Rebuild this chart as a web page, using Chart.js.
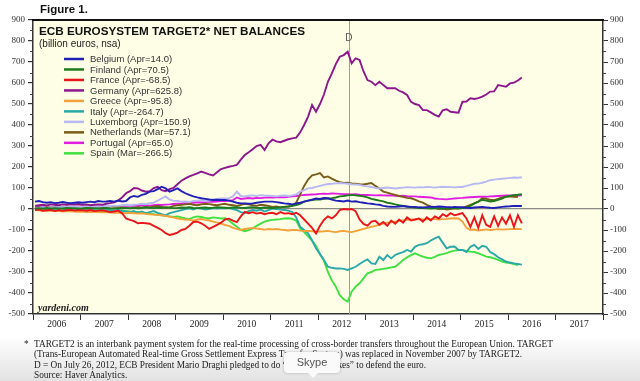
<!DOCTYPE html>
<html><head><meta charset="utf-8">
<script src="https://cdn.jsdelivr.net/npm/chart.js@4.4.1/dist/chart.umd.min.js"></script>
<style>
html,body{margin:0;padding:0;}
body{width:640px;height:381px;position:relative;overflow:hidden;background:linear-gradient(to bottom,#fff 0,#fff 336px,#e2e2e2 381px);font-family:"Liberation Sans",Arial,sans-serif;}
#c{position:absolute;left:0;top:0;}
.t{position:absolute;white-space:nowrap;line-height:1;}
.foot{position:absolute;left:24px;top:339px;font-family:"Liberation Serif",serif;font-size:9.3px;line-height:10.4px;color:#222;white-space:nowrap;}
.foot .star{position:absolute;left:0;top:0;}
.foot .txt{position:absolute;left:10px;top:0;}
.skype{position:absolute;left:284px;top:352px;width:56px;height:21px;background:#fafafa;border-radius:4px;box-shadow:0 0 3px rgba(0,0,0,0.25);font-family:"Liberation Sans",Arial,sans-serif;font-size:11px;color:#555;text-align:center;line-height:21px;}
.skype:after{content:"";position:absolute;left:24px;top:21px;border-left:5px solid transparent;border-right:5px solid transparent;border-top:5px solid #fafafa;}
</style></head>
<body>
<canvas id="c" width="640" height="381"></canvas>
<div class="t" style="left:40px;top:4px;font-weight:bold;font-size:11.5px;color:#111">Figure 1.</div>
<div class="t" style="left:39px;top:25px;font-weight:bold;font-size:11.7px;color:#111">ECB EUROSYSTEM TARGET2* NET BALANCES</div>
<div class="t" style="left:39px;top:39px;font-size:10px;color:#222">(billion euros, nsa)</div>
<div class="t" style="left:38px;top:303px;font-family:'Liberation Serif',serif;font-style:italic;font-weight:bold;font-size:10px;color:#222">yardeni.com</div>
<div class="foot"><span class="star">*</span><div class="txt">TARGET2 is an interbank payment system for the real-time processing of cross-border transfers throughout the European Union. TARGET<br>(Trans-European Automated Real-time Gross Settlement Express Transfer System) was replaced in November 2007 by TARGET2.<br>D = On July 26, 2012, ECB President Mario Draghi pledged to do “whatever it takes” to defend the euro.<br>Source: Haver Analytics.</div></div>
<div class="skype">Skype</div>
<script>
// ---- data (billion euros, monthly from Jan 2006) ----
const yearLabels = ['2006','2007','2008','2009','2010','2011','2012','2013','2014','2015','2016','2017'];
const seriesNames = ['Belgium (Apr=14.0)','Finland (Apr=70.5)','France (Apr=-68.5)','Germany (Apr=625.8)','Greece (Apr=-95.8)','Italy (Apr=-264.7)','Luxemborg (Apr=150.9)','Netherlands (Mar=57.1)','Portugal (Apr=65.0)','Spain (Mar=-266.5)'];
const dLineDate = 2012.65;

const belgium = [35,38,33,30,32,28,30,33,30,28,30,32, 30,33,35,32,38,35,36,38,35,40,36,38, 55,62,58,67,72,83,85,95,106,98,83,90, 98,85,75,67,60,55,51,48,45,43,44,43, 43,40,35,30,27,27,25,27,30,33,35,35, 35,33,30,27,25,22,27,30,35,40,45,50, 48,52,51,45,40,38,36,40,35,37,33,30, 27,25,22,20,15,12,11,10,12,14,12,10, 10,8,7,9,11,10,12,11,9,8,10,9, 8,6,5,7,9,10,8,6,5,8,10,12, 13,15,14,14.0];
const finland = [3,4,2,5,3,4,2,3,5,4,3,2, 3,5,4,3,2,4,5,3,2,4,3,5, 4,6,3,5,8,6,4,7,5,8,6,4, 5,7,6,8,5,4,6,7,5,6,8,7, 6,5,7,8,6,5,7,9,6,5,7,6, 5,6,8,10,12,15,19,25,35,40,43,45, 45,48,50,52,55,60,62,65,67,65,63,60, 55,48,44,40,36,30,27,22,18,15,11,9, 7,5,4,3,2,3,4,2,3,5,4,3, 4,8,15,27,35,44,40,36,38,44,50,59, 62,66,68,70.5];
const france = [-5,-3,-8,-6,-4,-10,-5,-8,-6,-4,-7,-5, -6,-8,-5,-10,-8,-6,-10,-15,-12,-8,-20,-45, -52,-58,-68,-66,-68,-70,-80,-90,-100,-115,-124,-119, -112,-100,-95,-80,-62,-60,-68,-80,-95,-85,-76,-65, -50,-46,-55,-62,-35,-14,-20,-15,-22,-18,-25,-20, -18,-25,-15,-22,-20,-25,-18,-30,-50,-70,-90,-116, -80,-52,-35,-45,-30,-5,0,-2,0,-10,-50,-71, -79,-60,-56,-75,-62,-80,-55,-70,-50,-65,-40,-55, -50,-45,-60,-40,-55,-35,-45,-25,-35,-20,-30,-25, -20,-45,-85,-40,-90,-30,-75,-85,-35,-80,-40,-70, -30,-85,-30,-68.5];
const germany = [15,18,20,17,22,20,18,22,20,24,22,25, 20,22,18,20,22,20,25,28,32,40,55,75, 85,100,98,88,82,85,100,106,90,85,95,100, 118,135,146,155,162,170,178,172,165,160,175,190, 196,201,205,210,235,257,270,285,300,305,281,313, 330,322,318,325,332,336,340,365,400,440,495,463, 500,545,606,646,690,725,733,749,694,717,710,655, 614,606,590,606,590,575,575,575,563,555,543,510, 500,495,471,471,460,448,440,470,475,463,461,459, 511,512,527,524,528,535,545,559,560,590,586,582, 598,602,612,625.8];
const greece = [-5,-6,-8,-7,-9,-10,-10,-12,-10,-11,-12,-13, -12,-14,-13,-15,-14,-16,-15,-17,-18,-17,-19,-20, -18,-20,-22,-20,-23,-25,-27,-28,-30,-33,-37,-40, -45,-48,-50,-52,-55,-50,-48,-52,-55,-60,-65,-70, -76,-80,-90,-95,-100,-95,-92,-90,-93,-95,-98,-95, -97,-95,-98,-100,-102,-100,-100,-103,-105,-104,-106,-108, -107,-106,-104,-108,-110,-106,-104,-108,-110,-105,-100,-95, -90,-85,-80,-75,-70,-65,-63,-60,-58,-55,-52,-50, -50,-48,-50,-49,-47,-48,-50,-48,-47,-45,-44,-45, -60,-90,-100,-98,-102,-100,-97,-100,-98,-96,-98,-97, -96,-95,-95,-95.8];
const italy = [2,-1,3,0,-2,1,4,2,-1,0,3,1, 0,2,-3,1,3,-2,0,-5,-8,-4,-10,-12, -15,-10,-18,-12,-20,-15,-10,-18,-25,-30,-20,-15, -10,-5,0,3,-2,5,2,-3,0,4,2,5, 3,5,0,-5,-15,-20,-10,-5,-8,-3,-12,-5, 2,0,-3,-5,-8,-15,-40,-85,-100,-116,-150,-187, -215,-243,-275,-280,-283,-283,-285,-290,-283,-275,-262,-250, -240,-259,-262,-227,-243,-219,-235,-219,-211,-205,-195,-203, -180,-171,-168,-163,-150,-140,-132,-160,-187,-180,-179,-195, -195,-205,-180,-171,-190,-175,-180,-205,-215,-230,-240,-250, -255,-259,-262,-264.7];
const luxembourg = [5,6,8,7,9,8,10,9,11,10,12,11, 12,10,13,12,14,13,15,14,16,15,18,20, 18,20,22,25,23,28,30,40,50,60,45,40, 38,35,36,34,38,40,42,38,40,45,48,50, 50,52,60,83,62,60,63,65,62,66,64,63, 62,60,63,64,62,65,70,83,90,98,100,105, 110,115,119,120,122,124,122,120,118,117,115,110, 108,105,100,98,100,102,100,98,100,102,104,103, 102,104,103,105,104,102,104,106,105,104,103,105, 105,110,115,120,121,125,130,137,140,142,144,146, 148,150,149,150.9];
const netherlands = [5,8,6,10,7,9,12,8,10,11,9,12, 10,12,8,10,12,9,11,13,10,12,8,5, 3,5,8,6,10,8,12,15,10,5,8,15, 18,20,22,25,20,18,22,25,23,20,18,22, 25,20,18,15,20,25,22,18,15,20,18,15, 10,12,8,10,12,15,30,70,110,140,160,165, 171,150,155,145,135,128,124,125,122,120,118,117, 120,124,110,98,83,78,72,67,62,58,53,51, 45,36,30,20,11,5,0,2,-2,0,3,2, 5,12,20,27,35,51,48,44,42,48,55,59, 60,58,57.1];
const portugal = [8,10,9,11,10,12,11,10,12,11,13,12, 12,11,13,12,14,13,12,14,15,13,15,16, 15,16,14,17,18,16,18,20,19,21,22,24, 25,26,28,27,30,32,31,33,35,34,36,38, 38,40,42,55,48,50,52,50,53,52,54,55, 55,56,57,56,58,60,62,65,67,68,69,70, 72,73,72,74,73,72,71,70,69,70,68,67, 67,66,65,66,65,64,65,63,62,63,61,60, 60,58,57,56,55,50,48,47,46,48,50,52, 53,55,56,57,58,59,58,60,61,62,63,64, 64,65,64,65.0];
const spain = [-3,-5,-4,-6,-5,-7,-6,-8,-7,-6,-8,-7, -8,-7,-9,-8,-10,-9,-8,-10,-12,-10,-8,-10, -12,-15,-14,-18,-20,-22,-25,-28,-30,-33,-35,-38, -35,-40,-45,-48,-40,-35,-38,-42,-45,-40,-42,-45, -44,-55,-70,-84,-100,-106,-100,-92,-80,-70,-60,-55, -52,-50,-48,-45,-44,-47,-55,-92,-110,-130,-150,-176, -215,-245,-300,-340,-370,-410,-430,-441,-394,-370,-354,-330, -306,-300,-290,-288,-285,-282,-278,-275,-260,-243,-230,-220, -211,-220,-227,-232,-235,-228,-219,-215,-210,-203,-198,-195, -195,-200,-203,-205,-211,-218,-227,-230,-235,-242,-251,-255, -258,-262,-266.5];

const seriesValues = [belgium, finland, france, germany, greece, italy, luxembourg, netherlands, portugal, spain];
const seriesColors = ['#2020b8','#1e7a1e','#e8161b','#8c168c','#f2a23a','#2aa8a8','#b8b8f2','#7a5c1a','#e01ee0','#40e040'];

const monthPos = i => 2006 + (i + 0.5) / 12;

const datasets = seriesValues.map((vals, k) => ({
  label: seriesNames[k],
  data: vals.map((v, i) => ({x: monthPos(i), y: v})),
  borderColor: seriesColors[k],
  backgroundColor: seriesColors[k],
  borderWidth: 1.9,
  pointRadius: 0,
  tension: 0,
  yAxisID: 'y'
}));

Chart.defaults.font.family = '"Liberation Serif", serif';

const decor = {
  id: 'decor',
  beforeDraw(chart) {
    const {ctx, chartArea: a} = chart;
    ctx.save();
    ctx.fillStyle = '#fefee6';
    ctx.fillRect(a.left, a.top, a.right - a.left, a.bottom - a.top);
    ctx.restore();
  },
  beforeDatasetsDraw(chart) {
    const {ctx, chartArea: a, scales} = chart;
    const x = scales.x.getPixelForValue(dLineDate);
    ctx.save();
    ctx.strokeStyle = '#a0a09a';
    ctx.lineWidth = 1;
    ctx.beginPath();
    ctx.moveTo(Math.round(x) + 0.5, a.top);
    ctx.lineTo(Math.round(x) + 0.5, a.bottom);
    ctx.stroke();
    ctx.fillStyle = '#555';
    ctx.font = '10px "Liberation Sans", Arial, sans-serif';
    ctx.textAlign = 'center';
    ctx.textBaseline = 'alphabetic';
    ctx.fillText('D', x, 41);
    ctx.restore();
  },
  afterDraw(chart) {
    const {ctx, chartArea: a, scales} = chart;
    ctx.save();
    ctx.fillStyle = '#111';
    ctx.fillRect(a.left - 1, a.top - 1, a.right - a.left + 2, 2);
    ctx.strokeStyle = '#444';
    ctx.lineWidth = 1;
    for (let v = -450; v < 900; v += 100) {
      const y = Math.round(scales.y.getPixelForValue(v)) + 0.5;
      ctx.beginPath();
      ctx.moveTo(a.left - 3, y); ctx.lineTo(a.left, y);
      ctx.moveTo(a.right, y); ctx.lineTo(a.right + 3, y);
      ctx.stroke();
    }
    ctx.font = '9.5px "Liberation Sans", Arial, sans-serif';
    ctx.textBaseline = 'middle';
    ctx.textAlign = 'left';
    chart.data.datasets.forEach((ds, i) => {
      const y = 59 + i * 10.48;
      ctx.strokeStyle = ds.borderColor;
      ctx.lineWidth = 2.5;
      ctx.beginPath();
      ctx.moveTo(64, y); ctx.lineTo(84, y);
      ctx.stroke();
      ctx.fillStyle = '#333';
      ctx.fillText(ds.label, 90, y + 0.5);
    });
    ctx.restore();
  }
};

new Chart(document.getElementById('c'), {
  type: 'line',
  data: {datasets},
  plugins: [decor],
  options: {
    responsive: false,
    animation: false,
    devicePixelRatio: 1,
    layout: {padding: {top: 20, left: 0, right: 0, bottom: 0}},
    plugins: {legend: {display: false}, tooltip: {enabled: false}},
    scales: {
      x: {
        type: 'linear', position: 'bottom', min: 2006, max: 2018,
        afterBuildTicks: s => { s.ticks = yearLabels.map((l, i) => ({value: 2006.5 + i})); },
        afterFit: s => { s.height = 67; },
        ticks: {autoSkip: false, maxRotation: 0, padding: -1, color: '#222', font: {size: 9.5},
                callback: (v, i) => yearLabels[i]},
        grid: {offset: true, drawOnChartArea: false, tickLength: 6, color: '#333', lineWidth: 1},
        border: {color: '#333', width: 1.5}
      },
      y: {
        type: 'linear', position: 'left', min: -500, max: 900,
        afterFit: s => { s.width = 33; },
        ticks: {stepSize: 100, padding: 3, color: '#333', font: {size: 9}},
        grid: {drawOnChartArea: true, tickLength: 5, tickColor: '#333',
               color: c => (c.tick && c.tick.value === 0) ? '#8a8a84' : 'rgba(0,0,0,0)', lineWidth: 1.2},
        border: {color: '#333', width: 1.5}
      },
      y2: {
        type: 'linear', position: 'right', min: -500, max: 900,
        afterFit: s => { s.width = 37; },
        ticks: {stepSize: 100, padding: 2, color: '#333', font: {size: 9}},
        grid: {drawOnChartArea: false, tickLength: 5, color: '#333'},
        border: {color: '#333', width: 1.5}
      }
    }
  }
});
</script>
</body></html>
